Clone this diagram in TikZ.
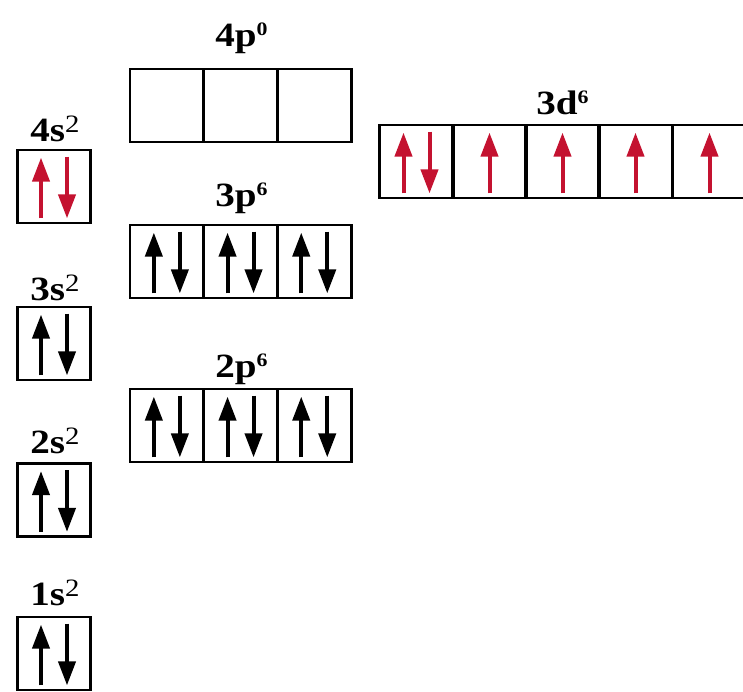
\documentclass[tikz,border=0pt]{standalone}
\usepackage{fontspec}
\setmainfont{Liberation Serif}
\usetikzlibrary{arrows.meta,calc}
\definecolor{spinred}{RGB}{196,18,48}
\newcommand\ssup[1]{\raisebox{9pt}{\fontsize{25}{25}\selectfont\mdseries #1}}
\newcommand\psup[1]{\raisebox{11pt}{\fontsize{19}{19}\selectfont #1}}
\newcommand\wide[1]{\scalebox{1.15}[1]{#1}}
\newcommand\spinpair[2]{%
  \draw[spin,#2] ($(#1.south west)!0.33!(#1.south east)+(0,-6)$) -- ($(#1.north west)!0.33!(#1.north east)+(0,9)$);
  \draw[spin,#2] ($(#1.north west)!0.67!(#1.north east)+(0,8)$) -- ($(#1.south west)!0.67!(#1.south east)+(0,-6)$);}
\newcommand\spinup[2]{%
  \draw[spin,#2] ($(#1.south)+(0,-6)$) -- ($(#1.north)+(0,9)$);}
\begin{document}
\begin{tikzpicture}[x=1pt,y=-1pt,
  cellbox/.style={draw, line width=2.8pt, minimum width=73.7pt, minimum height=73pt, inner sep=0pt},
  spin/.style={line width=4pt, -{Triangle[length=24pt,width=17pt]}},
  lab/.style={anchor=base, font=\fontsize{34}{36}\selectfont\bfseries, inner sep=0pt}]
\useasboundingbox (0,0) rectangle (743,692);
% s orbitals
\node[cellbox] (s4) at (54,186.5) {};
\node[cellbox] (s3) at (54,343.5) {};
\node[cellbox] (s2) at (54,500) {};
\node[cellbox] (s1) at (54,653.5) {};
\node[lab] (l4s) at (55,142) {\wide{4s\ssup{2}}};
\node[lab] (l3s) at (55,300) {\wide{3s\ssup{2}}};
\node[lab] (l2s) at (55,453) {\wide{2s\ssup{2}}};
\node[lab] (l1s) at (55,605) {\wide{1s\ssup{2}}};
\spinpair{s4}{spinred}
\spinpair{s3}{black}
\spinpair{s2}{black}
\spinpair{s1}{black}
% p orbitals
\foreach \i/\x in {1/166.85,2/240.55,3/314.25}{
  \node[cellbox] (p4\i) at (\x,105.5) {};
  \node[cellbox] (p3\i) at (\x,261.5) {};
  \node[cellbox] (p2\i) at (\x,425.5) {};
}
\node[lab] (l4p) at (241.5,47) {\wide{4p\psup{0}}};
\node[lab] (l3p) at (241.5,207) {\wide{3p\psup{6}}};
\node[lab] (l2p) at (241.5,377) {\wide{2p\psup{6}}};
\foreach \i in {1,2,3}{
  \spinpair{p3\i}{black}
  \spinpair{p2\i}{black}
}
% 3d orbitals
\foreach \i/\x in {1/416.5,2/489.5,3/562.5,4/635.5,5/709.5}{
  \node[cellbox] (d\i) at (\x,161.5) {};
}
\node[lab] (l3d) at (562.5,115) {\wide{3d\psup{6}}};
\spinpair{d1}{spinred}
\spinup{d2}{spinred}
\spinup{d3}{spinred}
\spinup{d4}{spinred}
\spinup{d5}{spinred}
\end{tikzpicture}
\end{document}
